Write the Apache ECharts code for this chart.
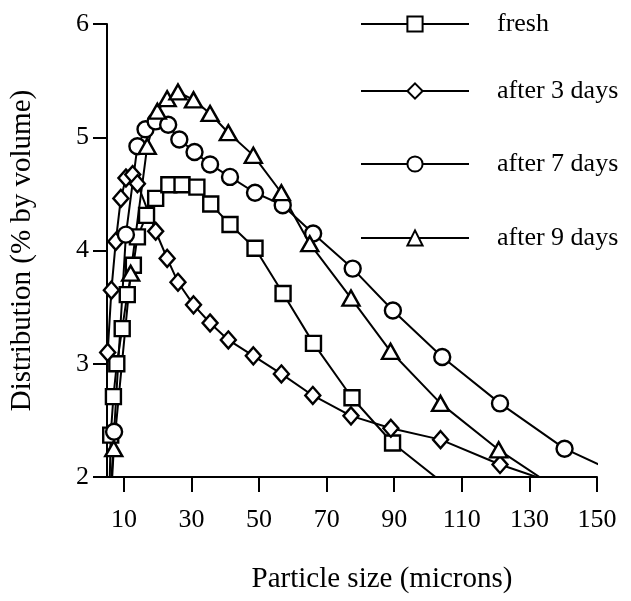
<!DOCTYPE html>
<html>
<head>
<meta charset="utf-8">
<script src="https://cdn.jsdelivr.net/npm/echarts@6/dist/echarts.min.js"></script>
<style>html,body{margin:0;padding:0;background:#fff}#c{width:631px;height:601px}</style>
</head>
<body>
<div id="c"></div>
<script>
// Data
var xTicks = [10, 30, 50, 70, 90, 110, 130, 150];
var yTicks = [2, 3, 4, 5, 6];
var seriesNames = ['fresh', 'after 3 days', 'after 7 days', 'after 9 days'];

var freshX = [5.6, 6.1, 6.9, 7.9, 9.5, 11.0, 12.8, 14.0, 16.7, 19.4, 23.3, 27.2, 31.6, 35.7, 41.4, 48.8, 57.1, 66.1, 77.5, 89.5, 106];
var freshY = [1.7, 2.37, 2.71, 3.00, 3.31, 3.61, 3.87, 4.12, 4.31, 4.46, 4.58, 4.58, 4.56, 4.41, 4.23, 4.02, 3.62, 3.18, 2.70, 2.30, 1.91];

var day3X = [5.2, 6.3, 7.6, 9.1, 10.6, 12.6, 14.0, 19.4, 22.8, 26.0, 30.6, 35.5, 40.9, 48.3, 56.6, 65.9, 77.2, 89.0, 103.7, 121.3, 140];
var day3Y = [3.10, 3.65, 4.08, 4.46, 4.64, 4.67, 4.59, 4.17, 3.93, 3.72, 3.52, 3.36, 3.21, 3.07, 2.91, 2.72, 2.54, 2.43, 2.33, 2.11, 1.92];

var day7X = [5.8, 7.1, 10.6, 14.0, 16.4, 19.4, 23.1, 26.4, 30.9, 35.5, 41.4, 48.8, 57.0, 66.0, 77.7, 89.6, 104.2, 121.3, 140.4, 160];
var day7Y = [1.7, 2.40, 4.14, 4.92, 5.07, 5.14, 5.11, 4.98, 4.87, 4.76, 4.65, 4.51, 4.40, 4.15, 3.84, 3.47, 3.06, 2.65, 2.25, 1.98];

var day9X = [5.8, 7.0, 12.0, 16.9, 19.9, 22.8, 26.0, 30.6, 35.5, 40.9, 48.3, 56.6, 65.0, 77.2, 88.9, 103.7, 120.9, 140];
var day9Y = [1.6, 2.25, 3.80, 4.92, 5.23, 5.34, 5.40, 5.33, 5.21, 5.04, 4.84, 4.51, 4.06, 3.58, 3.11, 2.65, 2.24, 1.86];

function pairs(xs, ys) { return xs.map(function (x, i) { return [x, ys[i]]; }); }

var FONT = 'Liberation Serif';
var symbols = ['rect', 'diamond', 'circle', 'triangle'];
var sizes = [15, [15, 17], 16, [17, 15]];
var datas = [pairs(freshX, freshY), pairs(day3X, day3Y), pairs(day7X, day7Y), pairs(day9X, day9Y)];
var legendTops = [11, 78, 151, 225];

var chart = echarts.init(document.getElementById('c'), null, {renderer: 'canvas'});
var option = {
  animation: false,
  backgroundColor: '#ffffff',
  grid: {left: 105, right: 34, top: 24, bottom: 124, containLabel: false},
  legend: seriesNames.map(function (n, i) {
    return {
      data: [n], orient: 'vertical', left: 360, top: legendTops[i], padding: 0,
      itemWidth: 108, itemHeight: 19, selectedMode: false,
      textStyle: {fontFamily: FONT, fontSize: 26, color: '#000', padding: [0, 0, 0, 23]}
    };
  }),
  xAxis: {
    type: 'value', min: 5, max: 150,
    name: 'Particle size (microns)', nameLocation: 'middle', nameGap: 88,
    nameTextStyle: {fontFamily: FONT, fontSize: 29, color: '#000', padding: [0, 0, 0, 60]},
    axisLine: {lineStyle: {color: '#000', width: 2}},
    axisTick: {show: true, inside: false, length: 15, lineStyle: {color: '#000', width: 2}, customValues: xTicks},
    axisLabel: {fontFamily: FONT, fontSize: 26, color: '#000', margin: 30, customValues: xTicks},
    splitLine: {show: false}
  },
  yAxis: {
    type: 'value', min: 2, max: 6, interval: 1,
    name: 'Distribution (% by volume)', nameLocation: 'middle', nameGap: 70,
    nameTextStyle: {fontFamily: FONT, fontSize: 29, color: '#000'},
    axisLine: {show: true, lineStyle: {color: '#000', width: 2}},
    axisTick: {show: true, inside: false, length: 14, lineStyle: {color: '#000', width: 2}},
    axisLabel: {fontFamily: FONT, fontSize: 26, color: '#000', margin: 18,
      formatter: function (v) { return yTicks.indexOf(v) >= 0 ? String(v) : ''; }},
    splitLine: {show: false}
  },
  series: seriesNames.map(function (n, i) {
    return {
      name: n, type: 'line', data: datas[i], clip: true,
      symbol: symbols[i], symbolSize: sizes[i], showAllSymbol: true,
      lineStyle: {color: '#000', width: 2},
      itemStyle: {color: '#fff', borderColor: '#000', borderWidth: 2.4},
      emphasis: {disabled: true}
    };
  })
};
chart.setOption(option);
</script>
</body>
</html>
